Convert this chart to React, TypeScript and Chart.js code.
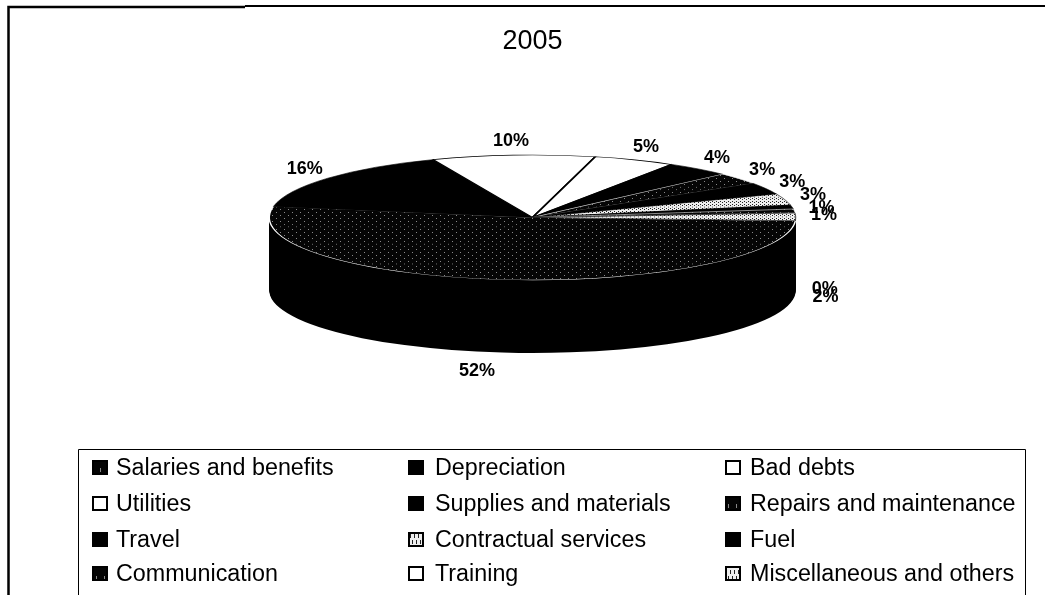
import React, { useEffect, useRef } from "react";
import { Chart, registerables } from "chart.js";

Chart.register(...registerables);

const titleText = "2005";
const categories = [
  "Salaries and benefits", "Depreciation", "Bad debts", "Utilities",
  "Supplies and materials", "Repairs and maintenance", "Travel", "Contractual services",
  "Fuel", "Communication", "Training", "Miscellaneous and others",
];
const shares = [52, 16, 10, 5, 4, 3, 3, 3, 1, 1, 0, 2];
const fillKinds = ["darkDots", "black", "white", "white", "black", "darkDots", "black", "lightDots", "black", "darkDots", "white", "lightDots"];
const edgeColors = ["#fff", "#000", "#000", "#000", "#000", "#ddd", "#000", "#000", "#000", "#ddd", "#000", "#000"];
const edgeWidths = [1.5, 1, 2.5, 2.5, 1, 1.5, 1, 1, 1, 1, 1, 1];

const FONT = '"Liberation Sans", Arial, sans-serif';
const RY = 62.5;
const RX = 263;
const CY = 217.5;
const DEPTH = 73;

function makePattern(ink: string, dot: string, w: number, h: number) {
  const c = document.createElement("canvas");
  c.width = w * 2;
  c.height = h * 2;
  const g = c.getContext("2d")!;
  g.fillStyle = ink;
  g.fillRect(0, 0, c.width, c.height);
  g.fillStyle = dot;
  g.fillRect(0, 0, 1, 4);
  g.fillRect(w, h, 1, 4);
  return g.createPattern(c, "repeat")!;
}

const pie3d = {
  id: "pie3d",
  beforeDatasetsDraw(chart: any) {
    const arcs = chart.getDatasetMeta(0).data;
    const { ctx } = chart;
    const { y, outerRadius } = arcs[0];
    ctx.save();
    for (let d = DEPTH; d >= 1; d--) {
      ctx.save();
      ctx.translate(0, CY + d);
      ctx.scale(1, RY / outerRadius);
      ctx.translate(0, -y);
      for (const a of arcs) {
        const o = a.options;
        a.options = Object.assign(Object.create(o), { backgroundColor: "#000", borderColor: "#000", borderWidth: 0 });
        a.draw(ctx);
        a.options = o;
      }
      ctx.restore();
    }
    ctx.translate(0, CY);
    ctx.scale(1, RY / outerRadius);
    ctx.translate(0, -y);
  },
  afterDatasetsDraw(chart: any) {
    const { ctx } = chart;
    ctx.restore();
    const arcs = chart.getDatasetMeta(0).data;
    const values = chart.data.datasets[0].data;
    ctx.save();
    ctx.font = `bold 18px ${FONT}`;
    ctx.fillStyle = "#000";
    ctx.textAlign = "center";
    ctx.textBaseline = "middle";
    arcs.forEach((a: any, i: number) => {
      const mid = (a.startAngle + a.endAngle) / 2;
      const sin = Math.sin(mid);
      const px = a.x + Math.cos(mid) * (RX + 30) - 22 * Math.max(0, sin);
      let py: number;
      if (sin > -0.08) {
        py = CY + DEPTH + 8 + (sin < 0 ? sin * 130 : sin * 73);
      } else {
        py = CY + sin * (RY + 14) + 10 * Math.max(0, 1 - Math.abs(sin) / 0.25);
      }
      ctx.fillText(`${values[i]}%`, px, py);
    });
    ctx.restore();
  },
  afterDraw(chart: any) {
    const { ctx } = chart;
    const ds = chart.data.datasets[0];
    ctx.save();
    ctx.strokeStyle = "#000";
    ctx.lineWidth = 2.5;
    ctx.beginPath();
    ctx.moveTo(8.5, 595);
    ctx.lineTo(8.5, 7);
    ctx.lineTo(245, 7);
    ctx.stroke();
    ctx.lineWidth = 2;
    ctx.beginPath();
    ctx.moveTo(245, 6);
    ctx.lineTo(1045, 6);
    ctx.stroke();
    ctx.lineWidth = 1;
    ctx.beginPath();
    ctx.moveTo(78.5, 595);
    ctx.lineTo(78.5, 449.5);
    ctx.lineTo(1025.5, 449.5);
    ctx.lineTo(1025.5, 595);
    ctx.stroke();
    const boxX = [93, 409, 726];
    const textX = [116, 435, 750];
    const rowY = [467, 503, 539, 573];
    ctx.font = `23.3px ${FONT}`;
    ctx.textBaseline = "middle";
    ctx.textAlign = "left";
    chart.data.labels.forEach((label: string, i: number) => {
      const col = i % 3;
      const ly = rowY[Math.floor(i / 3)];
      ctx.fillStyle = ds.backgroundColor[i];
      ctx.fillRect(boxX[col], ly - 6, 14, 13);
      ctx.strokeStyle = "#000";
      ctx.lineWidth = 2;
      ctx.strokeRect(boxX[col], ly - 6, 14, 13);
      ctx.fillStyle = "#000";
      ctx.fillText(label, textX[col], ly + 2);
    });
    ctx.restore();
  },
};

export default function App() {
  const ref = useRef<HTMLCanvasElement>(null);
  useEffect(() => {
    document.body.style.margin = "0";
    const fills: Record<string, any> = {
      black: "#000",
      white: "#fff",
      darkDots: makePattern("#050505", "#8a8a8a", 4, 12),
      lightDots: makePattern("#eeeeee", "#222222", 2, 6),
    };
    const chart = new Chart(ref.current!, {
      type: "pie",
      data: {
        labels: categories,
        datasets: [{
          data: shares,
          backgroundColor: fillKinds.map((k) => fills[k]),
          borderColor: edgeColors,
          borderWidth: edgeWidths,
        }],
      },
      options: {
        responsive: false,
        animation: false,
        rotation: 93,
        layout: { padding: { left: 268, right: 248, top: 0, bottom: 8 } },
        plugins: {
          legend: { display: false },
          tooltip: { enabled: false },
          title: {
            display: true,
            text: titleText,
            color: "#000",
            font: { family: FONT, size: 27, weight: "normal" },
            padding: { top: 25, bottom: 0 },
          },
        },
      },
      plugins: [pie3d],
    } as any);
    return () => chart.destroy();
  }, []);
  return <canvas ref={ref} width={1045} height={595} style={{ display: "block", background: "#fff" }} />;
}
